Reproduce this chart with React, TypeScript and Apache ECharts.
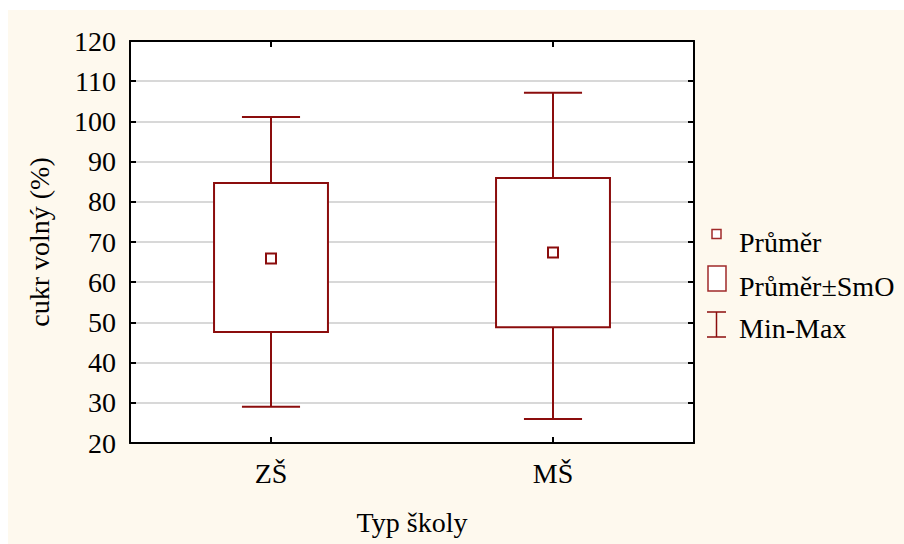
import React, { useEffect, useRef } from "react";
import * as echarts from "echarts";

const categories = ["ZŠ", "MŠ"];
const minValues = [29.0, 26.0];
const lowValues = [47.6, 48.8];
const meanValues = [65.9, 67.4];
const highValues = [84.7, 85.9];
const maxValues = [101.1, 107.1];
const yMin = 20;
const yMax = 120;
const yInterval = 10;
const legendLabels = ["Průměr", "Průměr±SmO", "Min-Max"];
const yTitle = "cukr volný (%)";
const xTitle = "Typ školy";

const DARK = "#8b0d0d";
const LEG = "#a02a2a";
const FONT = "Liberation Serif";

export default function App() {
  const ref = useRef<HTMLDivElement>(null);
  useEffect(() => {
    if (!ref.current) return;
    const chart = echarts.init(ref.current, undefined, { renderer: "svg" });
    const data = categories.map((_, i) => [i, minValues[i], lowValues[i], meanValues[i], highValues[i], maxValues[i]]);
    const baseAxisY = { type: "value", min: yMin, max: yMax, interval: yInterval };
    const txt = (text: string, y: number) => ({
      type: "text",
      x: 731,
      y,
      style: { text, fontFamily: FONT, fontSize: 28, fill: "#000", verticalAlign: "middle", align: "left" },
    });
    chart.setOption({
      animation: false,
      backgroundColor: "#fef9ee",
      textStyle: { fontFamily: FONT },
      grid: { left: 122, right: 210, top: 31, bottom: 101, containLabel: false, show: true, backgroundColor: "#ffffff", borderWidth: 0 },
      xAxis: [
        {
          type: "category", data: categories, position: "bottom", name: xTitle, nameLocation: "middle", nameGap: 65,
          nameTextStyle: { fontFamily: FONT, fontSize: 28, color: "#000" },
          axisLine: { show: true, lineStyle: { color: "#000", width: 2 } },
          axisTick: { show: true, inside: true, alignWithLabel: true, length: 6, lineStyle: { color: "#000", width: 2 } },
          axisLabel: { fontFamily: FONT, fontSize: 28, color: "#000", margin: 16 },
          splitLine: { show: false },
        },
        {
          type: "category", data: categories, position: "top",
          axisLine: { show: true, lineStyle: { color: "#000", width: 2 } },
          axisTick: { show: true, inside: true, alignWithLabel: true, length: 6, lineStyle: { color: "#000", width: 2 } },
          axisLabel: { show: false }, splitLine: { show: false },
        },
      ],
      yAxis: [
        {
          ...baseAxisY, position: "left", name: yTitle, nameLocation: "middle", nameGap: 77,
          nameTextStyle: { fontFamily: FONT, fontSize: 28, color: "#000" },
          axisLine: { show: true, lineStyle: { color: "#000", width: 2 } },
          axisTick: { show: true, inside: true, length: 6, lineStyle: { color: "#000", width: 2 } },
          axisLabel: { fontFamily: FONT, fontSize: 28, color: "#000", margin: 14 },
          splitLine: { show: true, lineStyle: { color: "#d8d8d8", width: 2 } },
        },
        {
          ...baseAxisY, position: "right",
          axisLine: { show: true, lineStyle: { color: "#000", width: 2 } },
          axisTick: { show: true, inside: true, length: 6, lineStyle: { color: "#000", width: 2 } },
          axisLabel: { show: false }, splitLine: { show: false },
        },
      ],
      series: [
        {
          type: "custom", xAxisIndex: 0, yAxisIndex: 0, data,
          encode: { x: 0, y: [1, 2, 3, 4, 5] },
          renderItem: (params: any, api: any) => {
            const idx = api.value(0);
            const band = api.size([1, 0])[0];
            const boxW = band * 0.404;
            const capW = band * 0.206;
            const pMin = api.coord([idx, api.value(1)]);
            const pLow = api.coord([idx, api.value(2)]);
            const pMean = api.coord([idx, api.value(3)]);
            const pHigh = api.coord([idx, api.value(4)]);
            const pMax = api.coord([idx, api.value(5)]);
            const cx = pMean[0];
            const ls = { stroke: DARK, lineWidth: 2, fill: null };
            return {
              type: "group",
              children: [
                { type: "line", shape: { x1: cx, y1: pMax[1], x2: cx, y2: pHigh[1] }, style: ls },
                { type: "line", shape: { x1: cx, y1: pLow[1], x2: cx, y2: pMin[1] }, style: ls },
                { type: "line", shape: { x1: cx - capW / 2, y1: pMax[1], x2: cx + capW / 2, y2: pMax[1] }, style: ls },
                { type: "line", shape: { x1: cx - capW / 2, y1: pMin[1], x2: cx + capW / 2, y2: pMin[1] }, style: ls },
                { type: "rect", shape: { x: cx - boxW / 2, y: pHigh[1], width: boxW, height: pLow[1] - pHigh[1] }, style: { stroke: DARK, lineWidth: 2, fill: "#ffffff" } },
                { type: "rect", shape: { x: cx - 5, y: pMean[1] - 5, width: 10, height: 10 }, style: { stroke: DARK, lineWidth: 2, fill: "#ffffff" } },
              ],
            };
          },
        },
      ],
      graphic: [
        { type: "rect", shape: { x: 704, y: 219.5, width: 9, height: 9 }, style: { stroke: LEG, lineWidth: 1.5, fill: "#ffffff" } },
        txt(legendLabels[0], 232),
        { type: "rect", shape: { x: 700, y: 256, width: 18, height: 25 }, style: { stroke: LEG, lineWidth: 1.5, fill: "#ffffff" } },
        txt(legendLabels[1], 276),
        { type: "line", shape: { x1: 699, y1: 302, x2: 718, y2: 302 }, style: { stroke: DARK, lineWidth: 1.5 } },
        { type: "line", shape: { x1: 699, y1: 327, x2: 718, y2: 327 }, style: { stroke: DARK, lineWidth: 1.5 } },
        { type: "line", shape: { x1: 708.5, y1: 302, x2: 708.5, y2: 327 }, style: { stroke: DARK, lineWidth: 1.5 } },
        txt(legendLabels[2], 318),
      ],
    });
    return () => chart.dispose();
  }, []);
  return <div ref={ref} style={{ position: "fixed", left: 8, top: 10, width: 896, height: 534 }} />;
}
